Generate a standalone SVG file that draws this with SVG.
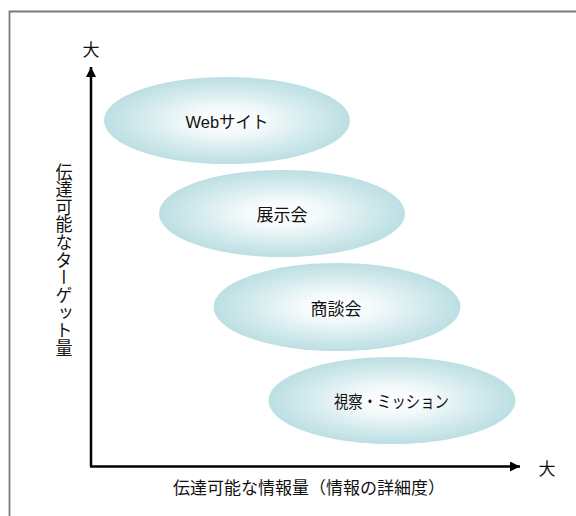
<svg xmlns="http://www.w3.org/2000/svg" width="576" height="516" viewBox="0 0 576 516">
<defs>
<radialGradient id="g" cx="50%" cy="50%" r="50%">
<stop offset="0" stop-color="#ffffff"/>
<stop offset="0.3" stop-color="#f4fafb"/>
<stop offset="0.7" stop-color="#d3eaed"/>
<stop offset="1" stop-color="#bcdfe3"/>
</radialGradient>
<marker id="ah" viewBox="0 0 10 10" refX="10" refY="5" markerWidth="12" markerHeight="10" markerUnits="userSpaceOnUse" orient="auto">
<path d="M0,0 L10,5 L0,10 z" fill="#000"/>
</marker>
<style>
.t{font-family:"Liberation Sans","Noto Sans CJK JP",sans-serif;fill:#111;}
.n{font-size:17px;text-anchor:middle;dominant-baseline:central;}
.e{fill:url(#g);stroke:none;}
</style>
</defs>
<rect width="576" height="516" fill="#fff"/>
<path d="M9.5,516 V11.5 H576" fill="none" stroke="#7a7a7a" stroke-width="1.8"/>
<g id="connectors">
<path d="M91,466.5 V67" fill="none" stroke="#000" stroke-width="2.5" marker-end="url(#ah)"/>
<path d="M90,466.5 H520" fill="none" stroke="#000" stroke-width="2.5" marker-end="url(#ah)"/>
</g>
<g id="node-web">
<ellipse class="e" cx="227" cy="120.5" rx="123" ry="43.5"/>
<text class="t n" x="227" y="122" textLength="83" lengthAdjust="spacingAndGlyphs">Webサイト</text>
</g>
<g id="node-tenjikai">
<ellipse class="e" cx="282" cy="213.5" rx="123" ry="43.5"/>
<text class="t n" x="282" y="215">展示会</text>
</g>
<g id="node-shodankai">
<ellipse class="e" cx="337" cy="307" rx="123.5" ry="44"/>
<text class="t n" x="336" y="309">商談会</text>
</g>
<g id="node-shisatsu">
<ellipse class="e" cx="392" cy="400.5" rx="123.5" ry="43.5"/>
<text class="t n" x="391.5" y="402" textLength="115" lengthAdjust="spacingAndGlyphs">視察・ミッション</text>
</g>
<g id="labels">
<text class="t n" x="91" y="50">大</text>
<text class="t n" x="547" y="469">大</text>
<text class="t n" x="309" y="488" textLength="272" lengthAdjust="spacingAndGlyphs">伝達可能な情報量（情報の詳細度）</text>
<text class="t" x="62" y="163" font-size="17" style="writing-mode:vertical-rl;text-orientation:mixed;" textLength="194" lengthAdjust="spacingAndGlyphs">伝達可能なターゲット量</text>
</g>
</svg>
